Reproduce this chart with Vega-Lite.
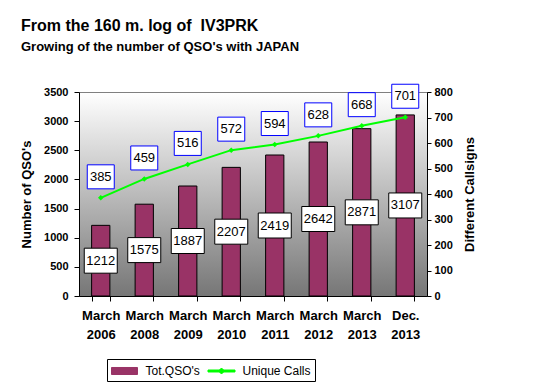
{
  "$schema": "https://vega.github.io/schema/vega-lite/v6.json",
  "width": 348,
  "height": 204,
  "autosize": "none",
  "padding": {"left": 79, "top": 92, "right": 107, "bottom": 96},
  "background": "white",
  "title": {
    "text": "From the 160 m. log of \u00a0IV3PRK",
    "subtitle": "Growing of the number of QSO's with JAPAN",
    "anchor": "start",
    "frame": "group",
    "dx": -58,
    "offset": 28,
    "font": "Liberation Sans",
    "fontSize": 16,
    "fontWeight": "bold",
    "color": "black",
    "subtitleFont": "Liberation Sans",
    "subtitleFontSize": 13,
    "subtitleFontWeight": "bold",
    "subtitleColor": "black",
    "subtitlePadding": 7
  },
  "config": {
    "view": {
      "stroke": "#808080",
      "fill": {"gradient": "linear", "x1": 0, "y1": 0, "x2": 0, "y2": 1, "stops": [{"offset": 0, "color": "#ffffff"}, {"offset": 1, "color": "#767676"}]}
    },
    "axis": {"grid": false, "domainColor": "black", "tickColor": "black", "labelColor": "black", "titleColor": "black"},
    "legend": {
      "orient": "none",
      "legendX": 28,
      "legendY": 267,
      "direction": "horizontal",
      "strokeColor": "black",
      "fillColor": "white",
      "padding": 4,
      "labelFont": "Liberation Sans",
      "labelFontSize": 12,
      "labelColor": "black",
      "symbolSize": 225,
      "symbolOffset": 5.5,
      "labelOffset": 13,
      "columnPadding": 6
    }
  },
  "data": {
    "values": [
      {"period": "March 2006", "tot": 1212, "calls": 385},
      {"period": "March 2008", "tot": 1575, "calls": 459},
      {"period": "March 2009", "tot": 1887, "calls": 516},
      {"period": "March 2010", "tot": 2207, "calls": 572},
      {"period": "March 2011", "tot": 2419, "calls": 594},
      {"period": "March 2012", "tot": 2642, "calls": 628},
      {"period": "March 2013", "tot": 2871, "calls": 668},
      {"period": "Dec. 2013", "tot": 3107, "calls": 701}
    ]
  },
  "encoding": {
    "x": {
      "field": "period",
      "type": "nominal",
      "sort": null,
      "scale": {"paddingInner": 0.58, "paddingOuter": 0.29},
      "axis": {
        "title": null,
        "labelAngle": 0,
        "labelExpr": "split(datum.label, ' ')",
        "labelFont": "Liberation Sans",
        "labelFontSize": 13,
        "labelFontWeight": "bold",
        "labelLineHeight": 19,
        "labelPadding": 8,
        "tickBand": "extent",
        "tickSize": 5
      }
    }
  },
  "layer": [
    {
      "mark": {"type": "bar", "stroke": "black", "strokeWidth": 1},
      "encoding": {
        "y": {
          "field": "tot",
          "type": "quantitative",
          "scale": {"domain": [0, 3500], "nice": false},
          "axis": {
            "title": "Number of QSO's",
            "format": "d",
            "titleFont": "Liberation Sans",
            "titleFontSize": 13,
            "titleFontWeight": "bold",
            "titlePadding": 10,
            "labelFont": "Liberation Sans",
            "labelFontSize": 11,
            "labelFontWeight": "bold",
            "labelPadding": 6,
            "tickSize": 5,
            "values": [0, 500, 1000, 1500, 2000, 2500, 3000, 3500]
          }
        },
        "color": {
          "datum": "Tot.QSO's",
          "type": "nominal",
          "scale": {"domain": ["Tot.QSO's", "Unique Calls"], "range": ["#993366", "#00ff00"]},
          "legend": {
            "title": null,
            "encode": {
              "symbols": {
                "update": {
                  "shape": {"signal": "datum.value === 'Unique Calls' ? 'M-1.8,-0.133L1.8,-0.133L1.8,0.133L-1.8,0.133Z M0,-0.4L0.4,0L0,0.4L-0.4,0Z' : 'M-1.733,-0.467L1.733,-0.467L1.733,0.467L-1.733,0.467Z'"},
                  "fill": {"signal": "datum.value === 'Unique Calls' ? '#00ff00' : '#993366'"},
                  "stroke": {"signal": "datum.value === 'Unique Calls' ? 'transparent' : 'black'"},
                  "strokeWidth": {"value": 1},
                  "opacity": {"value": 1},
                  "fillOpacity": {"value": 1}
                }
              }
            }
          }
        }
      }
    },
    {
      "encoding": {
        "y": {
          "field": "tot",
          "type": "quantitative",
          "scale": {"domain": [0, 7000], "nice": false},
          "axis": null
        }
      },
      "layer": [
        {
          "mark": {"type": "point", "shape": "M-1.32,-1L1.32,-1L1.32,1L-1.32,1Z", "size": 625, "filled": true, "fill": "white", "stroke": "black", "strokeWidth": 1, "opacity": 1}
        },
        {
          "mark": {"type": "text", "font": "Liberation Sans", "fontSize": 13, "color": "black", "baseline": "middle"},
          "encoding": {"text": {"field": "tot"}}
        }
      ]
    },
    {
      "encoding": {
        "y": {
          "field": "calls",
          "type": "quantitative",
          "scale": {"domain": [0, 800], "nice": false},
          "axis": {
            "orient": "right",
            "title": "Different Callsigns",
            "titleAngle": 270,
            "titleBaseline": "top",
            "titleFont": "Liberation Sans",
            "titleFontSize": 13,
            "titleFontWeight": "bold",
            "titlePadding": 11,
            "labelFont": "Liberation Sans",
            "labelFontSize": 11,
            "labelFontWeight": "bold",
            "labelPadding": 3,
            "tickSize": 4,
            "values": [0, 100, 200, 300, 400, 500, 600, 700, 800]
          }
        }
      },
      "layer": [
        {
          "mark": {"type": "line", "strokeWidth": 2, "point": {"shape": "diamond", "filled": true, "size": 30}},
          "encoding": {
            "color": {
              "datum": "Unique Calls",
              "type": "nominal",
              "legend": {
                "title": null,
                "encode": {
                  "symbols": {
                    "update": {
                      "shape": {"signal": "datum.value === 'Unique Calls' ? 'M-1.8,-0.133L1.8,-0.133L1.8,0.133L-1.8,0.133Z M0,-0.4L0.4,0L0,0.4L-0.4,0Z' : 'M-1.733,-0.467L1.733,-0.467L1.733,0.467L-1.733,0.467Z'"},
                      "fill": {"signal": "datum.value === 'Unique Calls' ? '#00ff00' : '#993366'"},
                      "stroke": {"signal": "datum.value === 'Unique Calls' ? 'transparent' : 'black'"},
                      "strokeWidth": {"value": 1},
                      "opacity": {"value": 1},
                      "fillOpacity": {"value": 1}
                    }
                  }
                }
              }
            }
          }
        },
        {
          "mark": {"type": "point", "shape": "M-1.125,-1L1.125,-1L1.125,1L-1.125,1Z", "size": 576, "filled": true, "fill": "white", "stroke": "#0000ff", "strokeWidth": 1, "opacity": 1},
          "encoding": {"yOffset": {"value": -21}}
        },
        {
          "mark": {"type": "text", "font": "Liberation Sans", "fontSize": 13, "color": "black", "baseline": "middle"},
          "encoding": {"yOffset": {"value": -21}, "text": {"field": "calls"}}
        }
      ]
    }
  ],
  "resolve": {"scale": {"y": "independent"}}
}
